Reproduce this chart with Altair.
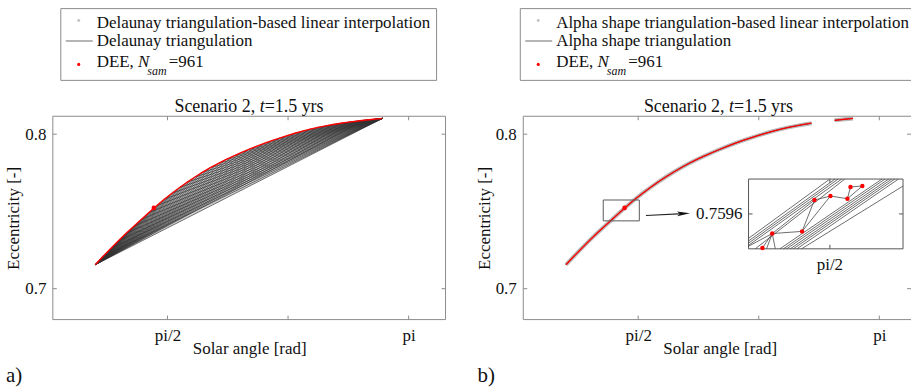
import altair as alt
import pandas as pd

FONT = "Liberation Serif, Times New Roman, Times, DejaVu Serif, serif"
FS = 17
TXT = "#111111"
FRAME = "#8c8c8c"
FILL = "#d0d0d0"
EDGE = "#333333"
RED = "#ff0000"

# ---------------- data ----------------
# DEE samples along the curve (solar angle [rad], eccentricity [-])
theta = [1.10, 1.15, 1.20, 1.25, 1.30, 1.35, 1.40, 1.45, 1.50, 1.55,
         1.60, 1.65, 1.70, 1.75, 1.80, 1.85, 1.90, 1.95, 2.00, 2.05,
         2.10, 2.15, 2.20, 2.25, 2.30, 2.35, 2.40, 2.45, 2.50, 2.55,
         2.60, 2.65, 2.70, 2.75, 2.80, 2.85, 2.90, 2.97]
ecc = [0.7155, 0.7208, 0.7259, 0.7309, 0.7357, 0.7403, 0.7448, 0.7493, 0.7537, 0.7579,
       0.7618, 0.7655, 0.7690, 0.7723, 0.7754, 0.7783, 0.7810, 0.7835, 0.7858, 0.7880,
       0.7901, 0.7921, 0.7940, 0.7958, 0.7975, 0.7991, 0.8006, 0.8020, 0.8033, 0.8044,
       0.8054, 0.8063, 0.8071, 0.8078, 0.8084, 0.8090, 0.8095, 0.8102]

# Delaunay triangulation edges (vertex indices): fans from the first and the last sample
fan_from_first = [2, 3, 4, 5, 6, 7, 8, 9, 10, 11, 12, 13, 14, 15, 16, 17, 18, 19, 20,
                  21, 22, 23, 24, 25, 26, 27, 28, 29, 30, 31, 32, 33, 34, 35]
fan_from_last = [1, 2, 3, 4, 5, 6, 7, 8, 9, 10, 11, 12, 13, 14, 15, 16, 17, 18, 19, 20,
                 21, 22, 23, 24, 25, 26, 27, 28, 29, 30, 31, 32, 33, 34, 35]

# highlighted DEE sample
highlight_theta = [1.482]
highlight_ecc = [0.7523]

# samples not covered by the alpha shape triangulation (gap in panel b)
alpha_gap = [2.75, 2.80]

# zoom window and arrow in panel b
zoom_box_theta = [1.343, 1.578]
zoom_box_ecc = [0.7439, 0.7574]
arrow_theta = [1.621, 1.866]
arrow_ecc = [0.7474, 0.7486]

x_ticks = [1.5708, 2.3562, 3.1416]
y_ticks = [0.7, 0.8]

# inset (zoom around pi/2, 0.7596)
inset_theta_domain = [1.555, 1.585]
inset_ecc_domain = [0.7588, 0.7604]
inset_dot_theta = [1.5577, 1.5596, 1.5654, 1.5678, 1.5709, 1.5742, 1.5748, 1.5771]
inset_dot_ecc = [0.75882, 0.75915, 0.75920, 0.75992, 0.76001, 0.75995, 0.76022, 0.76024]
inset_dot_edges = [(0, 1), (1, 2), (1, 3), (2, 3), (2, 4), (3, 4), (4, 5), (5, 6), (6, 7), (5, 7)]
inset_seg_t1 = [1.5550, 1.5550, 1.5550, 1.5550, 1.5563,
                1.5611, 1.5618, 1.5624, 1.5631, 1.5637, 1.5644, 1.5653,
                1.5596, 1.5596, 1.5596]
inset_seg_e1 = [0.75904, 0.75898, 0.75893, 0.75888, 0.75880,
                0.75880, 0.75880, 0.75880, 0.75880, 0.75880, 0.75880, 0.75880,
                0.75915, 0.75915, 0.75915]
inset_seg_t2 = [1.5708, 1.5718, 1.5724, 1.5731, 1.5737,
                1.5809, 1.5815, 1.5822, 1.5828, 1.5834, 1.5841, 1.5850,
                1.5585, 1.5602, 1.5550]
inset_seg_e2 = [0.76040, 0.76040, 0.76040, 0.76040, 0.76040,
                0.76040, 0.76040, 0.76040, 0.76040, 0.76040, 0.76040, 0.76024,
                0.75880, 0.75880, 0.75886]
inset_tick_theta = [1.5708]
inset_tick_ecc = [0.7596]

# ---------------- layout constants ----------------
W_L, W_R, H = 394, 389, 204
XL = alt.Scale(domain=[0.824, 3.382], nice=False, zero=False)
XR = alt.Scale(domain=[0.822, 3.348], nice=False, zero=False)
YS = alt.Scale(domain=[0.68, 0.8116], nice=False, zero=False)
XI = alt.Scale(domain=inset_theta_domain, range=[226, 381], nice=False, zero=False)
YI = alt.Scale(domain=inset_ecc_domain, range=[133, 63], nice=False, zero=False)

ONE = pd.DataFrame({"k": [0]})
ARROW = "M1,0 L-1,-0.36 L-0.55,0 L-1,0.36 Z"

curve = pd.DataFrame({"theta": theta, "ecc": ecc})
n = len(theta)
pairs = [(0, k) for k in fan_from_first] + [(n - 1, k) for k in fan_from_last] + [(0, n - 1)]
edges = pd.DataFrame({
    "t1": [theta[i] for i, j in pairs], "e1": [ecc[i] for i, j in pairs],
    "t2": [theta[j] for i, j in pairs], "e2": [ecc[j] for i, j in pairs],
})
t0, e0, tn, en = theta[0], ecc[0], theta[-1], ecc[-1]


def x_axis():
    return alt.Axis(values=x_ticks,
                    labelExpr="datum.value < 2 ? 'pi/2' : (datum.value > 3 ? 'pi' : '')",
                    ticks=False, tickSize=0, domain=False, grid=False, labelPadding=21,
                    labelBaseline="alphabetic", labelFont=FONT, labelFontSize=FS, labelColor=TXT,
                    labelFlush=False, labelOverlap=False,
                    title="Solar angle [rad]", titleFont=FONT, titleFontSize=FS,
                    titleFontWeight="normal", titleColor=TXT, titleX=197, titleY=34,
                    titleBaseline="alphabetic", titleAlign="center")


def y_axis():
    return alt.Axis(values=y_ticks, format=".1f", ticks=False, tickSize=0, domain=False,
                    grid=False, labelPadding=7, labelFont=FONT, labelFontSize=FS,
                    labelColor=TXT, labelBaseline="middle", labelFlush=False, labelOverlap=False,
                    title="Eccentricity [-]", titleFont=FONT, titleFontSize=FS,
                    titleFontWeight="normal", titleColor=TXT, titleX=-39, titleY=H / 2,
                    titleAngle=270, titleBaseline="middle", titleAlign="center")


def X(field, XS):
    return alt.X(field, scale=XS, axis=x_axis())


def Y(field):
    return alt.Y(field, scale=YS, axis=y_axis())


def rule_px(x1, y1, x2, y2, color, width=1.0, opacity=1.0):
    return alt.Chart(ONE).mark_rule(color=color, strokeWidth=width, opacity=opacity).encode(
        x=alt.value(x1), x2=alt.value(x2), y=alt.value(y1), y2=alt.value(y2))


def txt(s, x, y, size=FS, italic=False, align="left", baseline="alphabetic"):
    return alt.Chart(pd.DataFrame({"s": [s]})).mark_text(
        font=FONT, fontSize=size, fontStyle="italic" if italic else "normal",
        align=align, baseline=baseline, color=TXT).encode(
        x=alt.value(x), y=alt.value(y), text="s:N")


def dot_px(x, y, color, size):
    return alt.Chart(ONE).mark_circle(color=color, size=size, opacity=1).encode(
        x=alt.value(x), y=alt.value(y))


def legend(box_left, label1, label2, full_box, width):
    tx = box_left + 36
    dx = box_left + 18
    layers = []
    if full_box:
        layers.append(alt.Chart(ONE).mark_rect(fill="white", stroke=FRAME, strokeWidth=1).encode(
            x=alt.value(box_left), x2=alt.value(385), y=alt.value(-108), y2=alt.value(-36)))
    else:
        layers += [rule_px(box_left, -108, width, -108, FRAME),
                   rule_px(box_left, -36, width, -36, FRAME),
                   rule_px(box_left, -108, box_left, -36, FRAME)]
    layers += [
        dot_px(dx, -96, "#c4c4c4", 9),
        txt(label1, tx, -89),
        rule_px(box_left + 5, -75.5, box_left + 32, -75.5, "#6a6a6a", 1),
        txt(label2, tx, -70),
        dot_px(dx, -52, RED, 10),
        txt("DEE, ", tx, -49),
        txt("N", tx + 41.5, -49, italic=True),
        txt("sam", tx + 50.8, -41, size=12, italic=True),
        txt("=961", tx + 72.3, -49),
    ]
    return layers


def title_pieces(x0):
    return [txt("Scenario 2, ", x0, -4, size=18),
            txt("t", x0 + 85.5, -4, size=18, italic=True),
            txt("=1.5 yrs", x0 + 90.5, -4, size=18)]


def ticks(XS, width):
    xt = pd.DataFrame({"v": x_ticks})
    yt = pd.DataFrame({"v": y_ticks})
    out = []
    for ya, yb in [(H, H - 4), (0, 4)]:
        out.append(alt.Chart(xt).mark_rule(color=FRAME, strokeWidth=1).encode(
            x=X("v:Q", XS), y=alt.value(ya), y2=alt.value(yb)))
    for xa, xb in [(0, 4), (width - 4, width)]:
        out.append(alt.Chart(yt).mark_rule(color=FRAME, strokeWidth=1).encode(
            y=Y("v:Q"), x=alt.value(xa), x2=alt.value(xb)))
    return out


def anchors(xs):
    return [rule_px(x, -115, x, 275, "white", 1, 0) for x in xs]


# ---------------- panel a) ----------------
area = alt.Chart(curve).transform_calculate(
    chord=f"{e0} + ({en} - {e0}) * (datum.theta - {t0}) / ({tn} - {t0})"
).mark_area(color=FILL, orient="vertical").encode(
    x=X("theta:Q", XL), y=Y("ecc:Q"), y2="chord:Q")

edge_rules = alt.Chart(edges).mark_rule(color=EDGE, strokeWidth=0.75, opacity=0.9).encode(
    x=X("t1:Q", XL), x2="t2:Q", y=Y("e1:Q"), y2="e2:Q")

red_l = alt.Chart(curve).mark_line(color=RED, strokeWidth=1.4).encode(
    x=X("theta:Q", XL), y=Y("ecc:Q"))

hl = pd.DataFrame({"theta": highlight_theta, "ecc": highlight_ecc})
hl_l = alt.Chart(hl).mark_circle(color=RED, size=22, opacity=1).encode(
    x=X("theta:Q", XL), y=Y("ecc:Q"))

frame_l = alt.Chart(ONE).mark_rect(fillOpacity=0, fill="white", stroke=FRAME, strokeWidth=1).encode(
    x=alt.value(0), x2=alt.value(W_L), y=alt.value(0), y2=alt.value(H))

left_layers = [area, edge_rules, red_l, hl_l] + ticks(XL, W_L) + [frame_l]
left_layers += legend(8, "Delaunay triangulation-based linear interpolation",
                      "Delaunay triangulation", True, W_L)
left_layers += title_pieces(122)
left_layers += [txt("a)", -47, 266.5, size=21)]
left_layers += anchors([-52, 418])
left = alt.layer(*left_layers).properties(width=W_L, height=H)

# ---------------- panel b) ----------------
rc = curve[~curve["theta"].isin(alpha_gap)].copy()
rc["seg"] = [1 if t < min(alpha_gap) else 2 for t in rc["theta"]]

halo = alt.Chart(rc).mark_line(color="#b0b0b0", strokeWidth=4, opacity=0.9).encode(
    x=X("theta:Q", XR), y=Y("ecc:Q"), detail="seg:N")
dark = alt.Chart(rc).mark_line(color="#505050", strokeWidth=1.0).encode(
    x=X("theta:Q", XR), y=Y("ecc:Q"), detail="seg:N")
red_r = alt.Chart(rc).mark_line(color=RED, strokeWidth=1.3).encode(
    x=X("theta:Q", XR), y=Y("ecc:Q"), detail="seg:N")
hl_r = alt.Chart(hl).mark_circle(color=RED, size=22, opacity=1).encode(
    x=X("theta:Q", XR), y=Y("ecc:Q"))

zb = pd.DataFrame({"t1": [zoom_box_theta[0]], "t2": [zoom_box_theta[1]],
                   "e1": [zoom_box_ecc[0]], "e2": [zoom_box_ecc[1]]})
zoom_rect = alt.Chart(zb).mark_rect(fillOpacity=0, fill="white", stroke="#5a5a5a", strokeWidth=1).encode(
    x=X("t1:Q", XR), x2="t2:Q", y=Y("e1:Q"), y2="e2:Q")

ar = pd.DataFrame({"t1": [arrow_theta[0]], "t2": [arrow_theta[1]],
                   "e1": [arrow_ecc[0]], "e2": [arrow_ecc[1]]})
arrow_line = alt.Chart(ar).mark_rule(color="#222222", strokeWidth=1.1).encode(
    x=X("t1:Q", XR), x2="t2:Q", y=Y("e1:Q"), y2="e2:Q")
arrow_head = alt.Chart(ar).mark_point(shape=ARROW, filled=True, size=170, color="#111111",
                                      opacity=1, angle=357.5).encode(
    x=X("t2:Q", XR), y=Y("e2:Q"))

main_r_layers = [halo, dark, red_r, hl_r, zoom_rect, arrow_line, arrow_head] + ticks(XR, W_R)
main_r_layers += [rule_px(0, 0, W_R, 0, FRAME), rule_px(0, H, W_R, H, FRAME), rule_px(0, 0, 0, H, FRAME)]
main_r_layers += legend(-3, "Alpha shape triangulation-based linear interpolation",
                        "Alpha shape triangulation", False, W_R)
main_r_layers += title_pieces(121)
main_r_layers += [txt("b)", -46, 266.5, size=21)]
main_r_layers += anchors([-52])
main_r = alt.layer(*main_r_layers)

# inset
inset_frame = alt.Chart(ONE).mark_rect(fill="white", stroke="#555555", strokeWidth=1).encode(
    x=alt.value(226), x2=alt.value(381), y=alt.value(63), y2=alt.value(133))
segs = pd.DataFrame({
    "t1": inset_seg_t1 + [inset_dot_theta[i] for i, j in inset_dot_edges],
    "e1": inset_seg_e1 + [inset_dot_ecc[i] for i, j in inset_dot_edges],
    "t2": inset_seg_t2 + [inset_dot_theta[j] for i, j in inset_dot_edges],
    "e2": inset_seg_e2 + [inset_dot_ecc[j] for i, j in inset_dot_edges],
})
inset_lines = alt.Chart(segs).mark_rule(color="#4a4a4a", strokeWidth=0.8).encode(
    x=alt.X("t1:Q", scale=XI, axis=None), x2="t2:Q",
    y=alt.Y("e1:Q", scale=YI, axis=None), y2="e2:Q")
idots = pd.DataFrame({"t": inset_dot_theta, "e": inset_dot_ecc})
inset_dots = alt.Chart(idots).mark_circle(color=RED, size=20, opacity=1).encode(
    x=alt.X("t:Q", scale=XI, axis=None), y=alt.Y("e:Q", scale=YI, axis=None))
itx = pd.DataFrame({"v": inset_tick_theta, "s": ["pi/2"]})
ity = pd.DataFrame({"v": inset_tick_ecc, "s": ["0.7596"]})
inset_ticks = [
    alt.Chart(itx).mark_rule(color="#555555").encode(
        x=alt.X("v:Q", scale=XI, axis=None), y=alt.value(133), y2=alt.value(129)),
    alt.Chart(itx).mark_rule(color="#555555").encode(
        x=alt.X("v:Q", scale=XI, axis=None), y=alt.value(63), y2=alt.value(67)),
    alt.Chart(ity).mark_rule(color="#555555").encode(
        y=alt.Y("v:Q", scale=YI, axis=None), x=alt.value(226), x2=alt.value(230)),
    alt.Chart(ity).mark_rule(color="#555555").encode(
        y=alt.Y("v:Q", scale=YI, axis=None), x=alt.value(377), x2=alt.value(381)),
    alt.Chart(itx).mark_text(font=FONT, fontSize=FS, color=TXT, align="center", baseline="middle").encode(
        x=alt.X("v:Q", scale=XI, axis=None), y=alt.value(149), text="s:N"),
    alt.Chart(ity).mark_text(font=FONT, fontSize=FS, color=TXT, align="right", baseline="middle").encode(
        y=alt.Y("v:Q", scale=YI, axis=None), x=alt.value(220), text="s:N"),
]
inset = alt.layer(inset_frame, inset_lines, inset_dots, *inset_ticks)

right = alt.layer(main_r, inset).resolve_scale(x="independent", y="independent").properties(
    width=W_R, height=H)

chart = alt.hconcat(left, right, spacing=0).properties(
    padding={"left": 0, "top": 0, "right": 0, "bottom": 0}
).configure_view(stroke="transparent")

chart.save("out.html", embed_options={"renderer": "svg", "actions": False})
